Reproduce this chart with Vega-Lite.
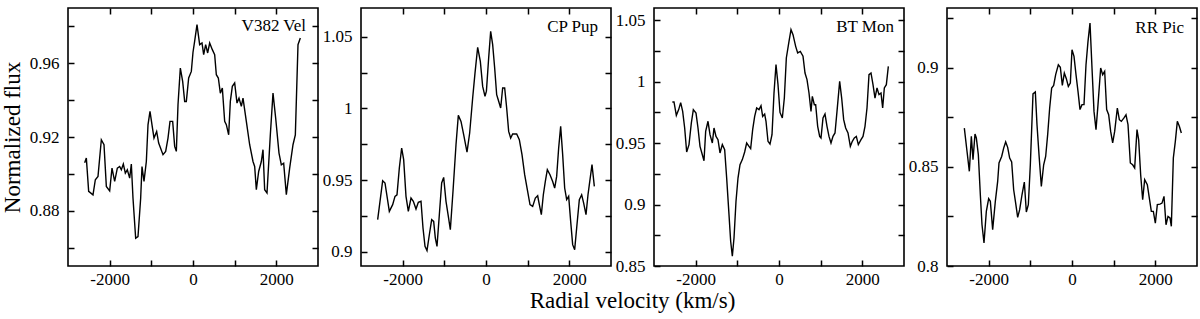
{
  "$schema": "https://vega.github.io/schema/vega-lite/v6.json",
  "background": "white",
  "padding": {"left": 0, "top": 6, "right": 2, "bottom": 3},
  "bounds": "flush",
  "spacing": 43,
  "title": {"text": "Radial velocity (km/s)", "orient": "bottom", "anchor": "middle", "font": "Liberation Serif", "fontSize": 23, "fontWeight": "normal", "color": "black", "offset": 0, "dy": 2, "dx": 33},
  "config": {
    "view": {"stroke": "black", "strokeWidth": 1.6},
    "axis": {"domain": false, "grid": false, "tickColor": "black", "tickWidth": 1.5, "tickSize": -6, "labelFont": "Liberation Serif", "labelFontSize": 17, "labelColor": "black", "titleFont": "Liberation Serif", "titleFontSize": 23, "titleFontWeight": "normal", "titleColor": "black"},
    "axisX": {"labelPadding": 11},
    "axisY": {"labelPadding": 15},
    "title": {"font": "Liberation Serif", "fontWeight": "normal", "color": "black"}
  },
  "data": {"values": [
    {"star":"V382 Vel","velocity":-2600,"flux":0.906},
    {"star":"V382 Vel","velocity":-2560,"flux":0.9086},
    {"star":"V382 Vel","velocity":-2504,"flux":0.8905},
    {"star":"V382 Vel","velocity":-2400,"flux":0.8886},
    {"star":"V382 Vel","velocity":-2344,"flux":0.8968},
    {"star":"V382 Vel","velocity":-2280,"flux":0.8986},
    {"star":"V382 Vel","velocity":-2200,"flux":0.9185},
    {"star":"V382 Vel","velocity":-2136,"flux":0.9158},
    {"star":"V382 Vel","velocity":-2080,"flux":0.8932},
    {"star":"V382 Vel","velocity":-2000,"flux":0.8908},
    {"star":"V382 Vel","velocity":-1944,"flux":0.9031},
    {"star":"V382 Vel","velocity":-1880,"flux":0.8959},
    {"star":"V382 Vel","velocity":-1816,"flux":0.9031},
    {"star":"V382 Vel","velocity":-1760,"flux":0.904},
    {"star":"V382 Vel","velocity":-1720,"flux":0.9022},
    {"star":"V382 Vel","velocity":-1672,"flux":0.9053},
    {"star":"V382 Vel","velocity":-1624,"flux":0.9004},
    {"star":"V382 Vel","velocity":-1576,"flux":0.9022},
    {"star":"V382 Vel","velocity":-1520,"flux":0.8977},
    {"star":"V382 Vel","velocity":-1480,"flux":0.9053},
    {"star":"V382 Vel","velocity":-1440,"flux":0.8868},
    {"star":"V382 Vel","velocity":-1376,"flux":0.8651},
    {"star":"V382 Vel","velocity":-1320,"flux":0.866},
    {"star":"V382 Vel","velocity":-1256,"flux":0.8868},
    {"star":"V382 Vel","velocity":-1224,"flux":0.904},
    {"star":"V382 Vel","velocity":-1176,"flux":0.8959},
    {"star":"V382 Vel","velocity":-1120,"flux":0.9067},
    {"star":"V382 Vel","velocity":-1080,"flux":0.9266},
    {"star":"V382 Vel","velocity":-1032,"flux":0.9339},
    {"star":"V382 Vel","velocity":-984,"flux":0.9266},
    {"star":"V382 Vel","velocity":-936,"flux":0.9194},
    {"star":"V382 Vel","velocity":-872,"flux":0.923},
    {"star":"V382 Vel","velocity":-824,"flux":0.9167},
    {"star":"V382 Vel","velocity":-720,"flux":0.9104},
    {"star":"V382 Vel","velocity":-656,"flux":0.9122},
    {"star":"V382 Vel","velocity":-600,"flux":0.9194},
    {"star":"V382 Vel","velocity":-552,"flux":0.9285},
    {"star":"V382 Vel","velocity":-488,"flux":0.9285},
    {"star":"V382 Vel","velocity":-440,"flux":0.9149},
    {"star":"V382 Vel","velocity":-400,"flux":0.9122},
    {"star":"V382 Vel","velocity":-360,"flux":0.9375},
    {"star":"V382 Vel","velocity":-304,"flux":0.9574},
    {"star":"V382 Vel","velocity":-248,"flux":0.9502},
    {"star":"V382 Vel","velocity":-200,"flux":0.9393},
    {"star":"V382 Vel","velocity":-160,"flux":0.9393},
    {"star":"V382 Vel","velocity":-104,"flux":0.952},
    {"star":"V382 Vel","velocity":-40,"flux":0.9556},
    {"star":"V382 Vel","velocity":0,"flux":0.966},
    {"star":"V382 Vel","velocity":40,"flux":0.972},
    {"star":"V382 Vel","velocity":96,"flux":0.981},
    {"star":"V382 Vel","velocity":160,"flux":0.9701},
    {"star":"V382 Vel","velocity":216,"flux":0.971},
    {"star":"V382 Vel","velocity":256,"flux":0.9647},
    {"star":"V382 Vel","velocity":304,"flux":0.9701},
    {"star":"V382 Vel","velocity":352,"flux":0.9656},
    {"star":"V382 Vel","velocity":400,"flux":0.971},
    {"star":"V382 Vel","velocity":464,"flux":0.9674},
    {"star":"V382 Vel","velocity":520,"flux":0.9647},
    {"star":"V382 Vel","velocity":560,"flux":0.9538},
    {"star":"V382 Vel","velocity":608,"flux":0.952},
    {"star":"V382 Vel","velocity":656,"flux":0.9438},
    {"star":"V382 Vel","velocity":704,"flux":0.9466},
    {"star":"V382 Vel","velocity":760,"flux":0.9285},
    {"star":"V382 Vel","velocity":800,"flux":0.9267},
    {"star":"V382 Vel","velocity":856,"flux":0.9212},
    {"star":"V382 Vel","velocity":896,"flux":0.9393},
    {"star":"V382 Vel","velocity":944,"flux":0.9475},
    {"star":"V382 Vel","velocity":1000,"flux":0.9493},
    {"star":"V382 Vel","velocity":1056,"flux":0.9384},
    {"star":"V382 Vel","velocity":1104,"flux":0.9411},
    {"star":"V382 Vel","velocity":1160,"flux":0.9366},
    {"star":"V382 Vel","velocity":1200,"flux":0.9411},
    {"star":"V382 Vel","velocity":1280,"flux":0.9285},
    {"star":"V382 Vel","velocity":1360,"flux":0.9158},
    {"star":"V382 Vel","velocity":1440,"flux":0.9067},
    {"star":"V382 Vel","velocity":1480,"flux":0.904},
    {"star":"V382 Vel","velocity":1520,"flux":0.8914},
    {"star":"V382 Vel","velocity":1576,"flux":0.9013},
    {"star":"V382 Vel","velocity":1640,"flux":0.9067},
    {"star":"V382 Vel","velocity":1680,"flux":0.9131},
    {"star":"V382 Vel","velocity":1720,"flux":0.8914},
    {"star":"V382 Vel","velocity":1776,"flux":0.8896},
    {"star":"V382 Vel","velocity":1856,"flux":0.9212},
    {"star":"V382 Vel","velocity":1920,"flux":0.9438},
    {"star":"V382 Vel","velocity":1984,"flux":0.9303},
    {"star":"V382 Vel","velocity":2064,"flux":0.9113},
    {"star":"V382 Vel","velocity":2120,"flux":0.9049},
    {"star":"V382 Vel","velocity":2176,"flux":0.9058},
    {"star":"V382 Vel","velocity":2240,"flux":0.8887},
    {"star":"V382 Vel","velocity":2320,"flux":0.9031},
    {"star":"V382 Vel","velocity":2400,"flux":0.9158},
    {"star":"V382 Vel","velocity":2456,"flux":0.9212},
    {"star":"V382 Vel","velocity":2520,"flux":0.9701},
    {"star":"V382 Vel","velocity":2576,"flux":0.9737},

    {"star":"CP Pup","velocity":-2600,"flux":0.9223},
    {"star":"CP Pup","velocity":-2480,"flux":0.9495},
    {"star":"CP Pup","velocity":-2424,"flux":0.9479},
    {"star":"CP Pup","velocity":-2320,"flux":0.9281},
    {"star":"CP Pup","velocity":-2240,"flux":0.9328},
    {"star":"CP Pup","velocity":-2184,"flux":0.9386},
    {"star":"CP Pup","velocity":-2136,"flux":0.9397},
    {"star":"CP Pup","velocity":-2080,"flux":0.9584},
    {"star":"CP Pup","velocity":-2024,"flux":0.9723},
    {"star":"CP Pup","velocity":-1976,"flux":0.9642},
    {"star":"CP Pup","velocity":-1920,"flux":0.9386},
    {"star":"CP Pup","velocity":-1864,"flux":0.9281},
    {"star":"CP Pup","velocity":-1800,"flux":0.9374},
    {"star":"CP Pup","velocity":-1744,"flux":0.9351},
    {"star":"CP Pup","velocity":-1680,"flux":0.9297},
    {"star":"CP Pup","velocity":-1624,"flux":0.9344},
    {"star":"CP Pup","velocity":-1560,"flux":0.9351},
    {"star":"CP Pup","velocity":-1512,"flux":0.9165},
    {"star":"CP Pup","velocity":-1464,"flux":0.9037},
    {"star":"CP Pup","velocity":-1416,"flux":0.9007},
    {"star":"CP Pup","velocity":-1360,"flux":0.9118},
    {"star":"CP Pup","velocity":-1304,"flux":0.9223},
    {"star":"CP Pup","velocity":-1256,"flux":0.9211},
    {"star":"CP Pup","velocity":-1216,"flux":0.9095},
    {"star":"CP Pup","velocity":-1176,"flux":0.9037},
    {"star":"CP Pup","velocity":-1120,"flux":0.9258},
    {"star":"CP Pup","velocity":-1064,"flux":0.9479},
    {"star":"CP Pup","velocity":-1016,"flux":0.9518},
    {"star":"CP Pup","velocity":-960,"flux":0.9351},
    {"star":"CP Pup","velocity":-904,"flux":0.9246},
    {"star":"CP Pup","velocity":-856,"flux":0.9153},
    {"star":"CP Pup","velocity":-792,"flux":0.9421},
    {"star":"CP Pup","velocity":-720,"flux":0.9746},
    {"star":"CP Pup","velocity":-664,"flux":0.9951},
    {"star":"CP Pup","velocity":-600,"flux":0.9909},
    {"star":"CP Pup","velocity":-536,"flux":0.9816},
    {"star":"CP Pup","velocity":-456,"flux":0.9695},
    {"star":"CP Pup","velocity":-392,"flux":0.9828},
    {"star":"CP Pup","velocity":-320,"flux":1.0072},
    {"star":"CP Pup","velocity":-264,"flux":1.0246},
    {"star":"CP Pup","velocity":-200,"flux":1.0426},
    {"star":"CP Pup","velocity":-136,"flux":1.0328},
    {"star":"CP Pup","velocity":-80,"flux":1.0153},
    {"star":"CP Pup","velocity":-24,"flux":1.0084},
    {"star":"CP Pup","velocity":10,"flux":1.012},
    {"star":"CP Pup","velocity":64,"flux":1.0351},
    {"star":"CP Pup","velocity":112,"flux":1.0537},
    {"star":"CP Pup","velocity":160,"flux":1.0444},
    {"star":"CP Pup","velocity":208,"flux":1.0281},
    {"star":"CP Pup","velocity":256,"flux":1.0095},
    {"star":"CP Pup","velocity":304,"flux":1.0049},
    {"star":"CP Pup","velocity":352,"flux":1.0002},
    {"star":"CP Pup","velocity":400,"flux":1.0142},
    {"star":"CP Pup","velocity":448,"flux":1.0142},
    {"star":"CP Pup","velocity":496,"flux":1.0002},
    {"star":"CP Pup","velocity":544,"flux":0.9839},
    {"star":"CP Pup","velocity":592,"flux":0.9793},
    {"star":"CP Pup","velocity":640,"flux":0.9821},
    {"star":"CP Pup","velocity":736,"flux":0.9821},
    {"star":"CP Pup","velocity":800,"flux":0.9781},
    {"star":"CP Pup","velocity":864,"flux":0.9677},
    {"star":"CP Pup","velocity":928,"flux":0.9537},
    {"star":"CP Pup","velocity":992,"flux":0.9432},
    {"star":"CP Pup","velocity":1056,"flux":0.9328},
    {"star":"CP Pup","velocity":1120,"flux":0.9316},
    {"star":"CP Pup","velocity":1184,"flux":0.9374},
    {"star":"CP Pup","velocity":1240,"flux":0.939},
    {"star":"CP Pup","velocity":1280,"flux":0.9328},
    {"star":"CP Pup","velocity":1328,"flux":0.9258},
    {"star":"CP Pup","velocity":1376,"flux":0.9397},
    {"star":"CP Pup","velocity":1424,"flux":0.949},
    {"star":"CP Pup","velocity":1472,"flux":0.9572},
    {"star":"CP Pup","velocity":1536,"flux":0.9537},
    {"star":"CP Pup","velocity":1600,"flux":0.949},
    {"star":"CP Pup","velocity":1648,"flux":0.9444},
    {"star":"CP Pup","velocity":1696,"flux":0.9525},
    {"star":"CP Pup","velocity":1744,"flux":0.9723},
    {"star":"CP Pup","velocity":1792,"flux":0.9874},
    {"star":"CP Pup","velocity":1840,"flux":0.9677},
    {"star":"CP Pup","velocity":1888,"flux":0.9444},
    {"star":"CP Pup","velocity":1936,"flux":0.9363},
    {"star":"CP Pup","velocity":1984,"flux":0.9386},
    {"star":"CP Pup","velocity":2032,"flux":0.9211},
    {"star":"CP Pup","velocity":2080,"flux":0.9049},
    {"star":"CP Pup","velocity":2128,"flux":0.9014},
    {"star":"CP Pup","velocity":2176,"flux":0.9165},
    {"star":"CP Pup","velocity":2240,"flux":0.9363},
    {"star":"CP Pup","velocity":2296,"flux":0.9397},
    {"star":"CP Pup","velocity":2344,"flux":0.9339},
    {"star":"CP Pup","velocity":2400,"flux":0.9258},
    {"star":"CP Pup","velocity":2448,"flux":0.9397},
    {"star":"CP Pup","velocity":2496,"flux":0.9502},
    {"star":"CP Pup","velocity":2544,"flux":0.9607},
    {"star":"CP Pup","velocity":2600,"flux":0.9456},

    {"star":"BT Mon","velocity":-2560,"flux":0.9835},
    {"star":"BT Mon","velocity":-2520,"flux":0.9835},
    {"star":"BT Mon","velocity":-2464,"flux":0.9726},
    {"star":"BT Mon","velocity":-2408,"flux":0.9773},
    {"star":"BT Mon","velocity":-2360,"flux":0.983},
    {"star":"BT Mon","velocity":-2312,"flux":0.9759},
    {"star":"BT Mon","velocity":-2264,"flux":0.9623},
    {"star":"BT Mon","velocity":-2216,"flux":0.9428},
    {"star":"BT Mon","velocity":-2160,"flux":0.9488},
    {"star":"BT Mon","velocity":-2104,"flux":0.9664},
    {"star":"BT Mon","velocity":-2056,"flux":0.9773},
    {"star":"BT Mon","velocity":-1992,"flux":0.9745},
    {"star":"BT Mon","velocity":-1944,"flux":0.9623},
    {"star":"BT Mon","velocity":-1896,"flux":0.9474},
    {"star":"BT Mon","velocity":-1840,"flux":0.9406},
    {"star":"BT Mon","velocity":-1800,"flux":0.9357},
    {"star":"BT Mon","velocity":-1760,"flux":0.9596},
    {"star":"BT Mon","velocity":-1704,"flux":0.9678},
    {"star":"BT Mon","velocity":-1656,"flux":0.9569},
    {"star":"BT Mon","velocity":-1600,"flux":0.9501},
    {"star":"BT Mon","velocity":-1560,"flux":0.9623},
    {"star":"BT Mon","velocity":-1512,"flux":0.9555},
    {"star":"BT Mon","velocity":-1464,"flux":0.9528},
    {"star":"BT Mon","velocity":-1416,"flux":0.942},
    {"star":"BT Mon","velocity":-1360,"flux":0.9488},
    {"star":"BT Mon","velocity":-1304,"flux":0.9447},
    {"star":"BT Mon","velocity":-1256,"flux":0.9216},
    {"star":"BT Mon","velocity":-1200,"flux":0.8918},
    {"star":"BT Mon","velocity":-1160,"flux":0.8701},
    {"star":"BT Mon","velocity":-1120,"flux":0.8579},
    {"star":"BT Mon","velocity":-1080,"flux":0.8728},
    {"star":"BT Mon","velocity":-1032,"flux":0.9027},
    {"star":"BT Mon","velocity":-984,"flux":0.9216},
    {"star":"BT Mon","velocity":-936,"flux":0.9325},
    {"star":"BT Mon","velocity":-880,"flux":0.9366},
    {"star":"BT Mon","velocity":-824,"flux":0.9428},
    {"star":"BT Mon","velocity":-776,"flux":0.9501},
    {"star":"BT Mon","velocity":-720,"flux":0.9474},
    {"star":"BT Mon","velocity":-680,"flux":0.9455},
    {"star":"BT Mon","velocity":-632,"flux":0.961},
    {"star":"BT Mon","velocity":-584,"flux":0.9718},
    {"star":"BT Mon","velocity":-536,"flux":0.9786},
    {"star":"BT Mon","velocity":-480,"flux":0.9773},
    {"star":"BT Mon","velocity":-432,"flux":0.9805},
    {"star":"BT Mon","velocity":-392,"flux":0.9718},
    {"star":"BT Mon","velocity":-344,"flux":0.9737},
    {"star":"BT Mon","velocity":-312,"flux":0.9678},
    {"star":"BT Mon","velocity":-264,"flux":0.9515},
    {"star":"BT Mon","velocity":-216,"flux":0.9493},
    {"star":"BT Mon","velocity":-168,"flux":0.9569},
    {"star":"BT Mon","velocity":-120,"flux":0.9908},
    {"star":"BT Mon","velocity":-72,"flux":1.0139},
    {"star":"BT Mon","velocity":-24,"flux":0.9976},
    {"star":"BT Mon","velocity":24,"flux":0.975},
    {"star":"BT Mon","velocity":80,"flux":0.9705},
    {"star":"BT Mon","velocity":128,"flux":0.9867},
    {"star":"BT Mon","velocity":176,"flux":1.0193},
    {"star":"BT Mon","velocity":240,"flux":1.0329},
    {"star":"BT Mon","velocity":288,"flux":1.0424},
    {"star":"BT Mon","velocity":336,"flux":1.0383},
    {"star":"BT Mon","velocity":400,"flux":1.0288},
    {"star":"BT Mon","velocity":448,"flux":1.0234},
    {"star":"BT Mon","velocity":512,"flux":1.0247},
    {"star":"BT Mon","velocity":576,"flux":1.0207},
    {"star":"BT Mon","velocity":624,"flux":1.0071},
    {"star":"BT Mon","velocity":672,"flux":1.0017},
    {"star":"BT Mon","velocity":720,"flux":0.9908},
    {"star":"BT Mon","velocity":768,"flux":0.9759},
    {"star":"BT Mon","velocity":800,"flux":0.9881},
    {"star":"BT Mon","velocity":848,"flux":0.9813},
    {"star":"BT Mon","velocity":880,"flux":0.9813},
    {"star":"BT Mon","velocity":928,"flux":0.9637},
    {"star":"BT Mon","velocity":976,"flux":0.9555},
    {"star":"BT Mon","velocity":1008,"flux":0.9542},
    {"star":"BT Mon","velocity":1056,"flux":0.9705},
    {"star":"BT Mon","velocity":1104,"flux":0.9737},
    {"star":"BT Mon","velocity":1152,"flux":0.9637},
    {"star":"BT Mon","velocity":1200,"flux":0.9555},
    {"star":"BT Mon","velocity":1248,"flux":0.9501},
    {"star":"BT Mon","velocity":1296,"flux":0.9555},
    {"star":"BT Mon","velocity":1344,"flux":0.9583},
    {"star":"BT Mon","velocity":1392,"flux":0.9759},
    {"star":"BT Mon","velocity":1456,"flux":1.0003},
    {"star":"BT Mon","velocity":1504,"flux":0.9867},
    {"star":"BT Mon","velocity":1552,"flux":0.9691},
    {"star":"BT Mon","velocity":1600,"flux":0.9623},
    {"star":"BT Mon","velocity":1656,"flux":0.9583},
    {"star":"BT Mon","velocity":1712,"flux":0.9474},
    {"star":"BT Mon","velocity":1760,"flux":0.9515},
    {"star":"BT Mon","velocity":1808,"flux":0.9542},
    {"star":"BT Mon","velocity":1856,"flux":0.9555},
    {"star":"BT Mon","velocity":1904,"flux":0.9488},
    {"star":"BT Mon","velocity":1968,"flux":0.9528},
    {"star":"BT Mon","velocity":2016,"flux":0.9555},
    {"star":"BT Mon","velocity":2064,"flux":0.9637},
    {"star":"BT Mon","velocity":2112,"flux":0.9786},
    {"star":"BT Mon","velocity":2160,"flux":1.0057},
    {"star":"BT Mon","velocity":2208,"flux":1.0071},
    {"star":"BT Mon","velocity":2256,"flux":0.9976},
    {"star":"BT Mon","velocity":2304,"flux":0.9867},
    {"star":"BT Mon","velocity":2352,"flux":0.9949},
    {"star":"BT Mon","velocity":2400,"flux":0.9895},
    {"star":"BT Mon","velocity":2448,"flux":0.9908},
    {"star":"BT Mon","velocity":2488,"flux":0.9786},
    {"star":"BT Mon","velocity":2528,"flux":0.9949},
    {"star":"BT Mon","velocity":2576,"flux":0.9976},
    {"star":"BT Mon","velocity":2624,"flux":1.0125},

    {"star":"RR Pic","velocity":-2584,"flux":0.8695},
    {"star":"RR Pic","velocity":-2520,"flux":0.8578},
    {"star":"RR Pic","velocity":-2464,"flux":0.8477},
    {"star":"RR Pic","velocity":-2416,"flux":0.8653},
    {"star":"RR Pic","velocity":-2376,"flux":0.8536},
    {"star":"RR Pic","velocity":-2328,"flux":0.8665},
    {"star":"RR Pic","velocity":-2296,"flux":0.8645},
    {"star":"RR Pic","velocity":-2248,"flux":0.8561},
    {"star":"RR Pic","velocity":-2200,"flux":0.8359},
    {"star":"RR Pic","velocity":-2160,"flux":0.8208},
    {"star":"RR Pic","velocity":-2112,"flux":0.8116},
    {"star":"RR Pic","velocity":-2056,"flux":0.8275},
    {"star":"RR Pic","velocity":-2000,"flux":0.8339},
    {"star":"RR Pic","velocity":-1960,"flux":0.8326},
    {"star":"RR Pic","velocity":-1904,"flux":0.8183},
    {"star":"RR Pic","velocity":-1840,"flux":0.8326},
    {"star":"RR Pic","velocity":-1784,"flux":0.8426},
    {"star":"RR Pic","velocity":-1752,"flux":0.8519},
    {"star":"RR Pic","velocity":-1688,"flux":0.8552},
    {"star":"RR Pic","velocity":-1640,"flux":0.8594},
    {"star":"RR Pic","velocity":-1592,"flux":0.8625},
    {"star":"RR Pic","velocity":-1544,"flux":0.8598},
    {"star":"RR Pic","velocity":-1496,"flux":0.8544},
    {"star":"RR Pic","velocity":-1448,"flux":0.8524},
    {"star":"RR Pic","velocity":-1400,"flux":0.8384},
    {"star":"RR Pic","velocity":-1352,"flux":0.8317},
    {"star":"RR Pic","velocity":-1304,"flux":0.8245},
    {"star":"RR Pic","velocity":-1256,"flux":0.8284},
    {"star":"RR Pic","velocity":-1200,"flux":0.8359},
    {"star":"RR Pic","velocity":-1144,"flux":0.8423},
    {"star":"RR Pic","velocity":-1096,"flux":0.8272},
    {"star":"RR Pic","velocity":-1048,"flux":0.8309},
    {"star":"RR Pic","velocity":-1000,"flux":0.851},
    {"star":"RR Pic","velocity":-936,"flux":0.8867},
    {"star":"RR Pic","velocity":-880,"flux":0.8877},
    {"star":"RR Pic","velocity":-840,"flux":0.8712},
    {"star":"RR Pic","velocity":-792,"flux":0.8561},
    {"star":"RR Pic","velocity":-736,"flux":0.8401},
    {"star":"RR Pic","velocity":-680,"flux":0.851},
    {"star":"RR Pic","velocity":-632,"flux":0.8552},
    {"star":"RR Pic","velocity":-584,"flux":0.8662},
    {"star":"RR Pic","velocity":-536,"flux":0.8796},
    {"star":"RR Pic","velocity":-488,"flux":0.8897},
    {"star":"RR Pic","velocity":-440,"flux":0.891},
    {"star":"RR Pic","velocity":-392,"flux":0.8964},
    {"star":"RR Pic","velocity":-328,"flux":0.9014},
    {"star":"RR Pic","velocity":-280,"flux":0.9001},
    {"star":"RR Pic","velocity":-232,"flux":0.891},
    {"star":"RR Pic","velocity":-184,"flux":0.8972},
    {"star":"RR Pic","velocity":-136,"flux":0.8944},
    {"star":"RR Pic","velocity":-88,"flux":0.8905},
    {"star":"RR Pic","velocity":-40,"flux":0.8922},
    {"star":"RR Pic","velocity":0,"flux":0.909},
    {"star":"RR Pic","velocity":48,"flux":0.9056},
    {"star":"RR Pic","velocity":96,"flux":0.8964},
    {"star":"RR Pic","velocity":144,"flux":0.888},
    {"star":"RR Pic","velocity":192,"flux":0.8788},
    {"star":"RR Pic","velocity":240,"flux":0.8813},
    {"star":"RR Pic","velocity":288,"flux":0.8813},
    {"star":"RR Pic","velocity":336,"flux":0.9014},
    {"star":"RR Pic","velocity":384,"flux":0.9132},
    {"star":"RR Pic","velocity":432,"flux":0.9224},
    {"star":"RR Pic","velocity":480,"flux":0.8998},
    {"star":"RR Pic","velocity":528,"flux":0.8779},
    {"star":"RR Pic","velocity":576,"flux":0.8687},
    {"star":"RR Pic","velocity":624,"flux":0.8813},
    {"star":"RR Pic","velocity":688,"flux":0.8998},
    {"star":"RR Pic","velocity":736,"flux":0.8964},
    {"star":"RR Pic","velocity":784,"flux":0.8981},
    {"star":"RR Pic","velocity":832,"flux":0.8788},
    {"star":"RR Pic","velocity":880,"flux":0.8762},
    {"star":"RR Pic","velocity":928,"flux":0.8678},
    {"star":"RR Pic","velocity":976,"flux":0.862},
    {"star":"RR Pic","velocity":1024,"flux":0.8678},
    {"star":"RR Pic","velocity":1088,"flux":0.8796},
    {"star":"RR Pic","velocity":1136,"flux":0.8737},
    {"star":"RR Pic","velocity":1184,"flux":0.8729},
    {"star":"RR Pic","velocity":1248,"flux":0.8746},
    {"star":"RR Pic","velocity":1296,"flux":0.8762},
    {"star":"RR Pic","velocity":1344,"flux":0.8712},
    {"star":"RR Pic","velocity":1400,"flux":0.8519},
    {"star":"RR Pic","velocity":1456,"flux":0.851},
    {"star":"RR Pic","velocity":1504,"flux":0.8494},
    {"star":"RR Pic","velocity":1560,"flux":0.8687},
    {"star":"RR Pic","velocity":1600,"flux":0.8636},
    {"star":"RR Pic","velocity":1648,"flux":0.846},
    {"star":"RR Pic","velocity":1696,"flux":0.8334},
    {"star":"RR Pic","velocity":1744,"flux":0.8435},
    {"star":"RR Pic","velocity":1808,"flux":0.841},
    {"star":"RR Pic","velocity":1856,"flux":0.8342},
    {"star":"RR Pic","velocity":1904,"flux":0.8275},
    {"star":"RR Pic","velocity":1952,"flux":0.8275},
    {"star":"RR Pic","velocity":2000,"flux":0.8216},
    {"star":"RR Pic","velocity":2048,"flux":0.8309},
    {"star":"RR Pic","velocity":2112,"flux":0.8312},
    {"star":"RR Pic","velocity":2160,"flux":0.8317},
    {"star":"RR Pic","velocity":2208,"flux":0.8351},
    {"star":"RR Pic","velocity":2256,"flux":0.8208},
    {"star":"RR Pic","velocity":2304,"flux":0.825},
    {"star":"RR Pic","velocity":2352,"flux":0.8242},
    {"star":"RR Pic","velocity":2384,"flux":0.82},
    {"star":"RR Pic","velocity":2432,"flux":0.8544},
    {"star":"RR Pic","velocity":2480,"flux":0.8628},
    {"star":"RR Pic","velocity":2528,"flux":0.8729},
    {"star":"RR Pic","velocity":2576,"flux":0.8704},
    {"star":"RR Pic","velocity":2624,"flux":0.867}
  ]},
  "hconcat": [
    {
      "width": 250, "height": 258,
      "title": {"text": "V382 Vel", "anchor": "end", "frame": "group", "orient": "top", "offset": 0, "dy": 41, "dx": -12, "baseline": "alphabetic", "fontSize": 17},
      "transform": [{"filter": "datum.star === 'V382 Vel'"}],
      "layer": [
        {"mark": {"type": "line", "color": "black", "strokeWidth": 1.4},
         "encoding": {
           "x": {"field": "velocity", "type": "quantitative", "scale": {"domain": [-3000, 3000], "nice": false}, "axis": {"orient": "bottom", "values": [-2000, -1000, 0, 1000, 2000], "labelExpr": "datum.value % 2000 === 0 ? '' + datum.value : ''", "title": null}},
           "y": {"field": "flux", "type": "quantitative", "scale": {"domain": [0.85, 0.99], "nice": false, "zero": false}, "axis": {"orient": "left", "values": [0.86, 0.88, 0.9, 0.92, 0.94, 0.96, 0.98], "labelExpr": "round(datum.value * 100) % 4 === 0 ? format(datum.value, '.2f') : ''", "title": "Normalized flux", "titlePadding": 5}}}},
        {"mark": {"type": "line", "opacity": 0},
         "encoding": {
           "x": {"field": "velocity", "type": "quantitative", "axis": {"orient": "top", "values": [-2000, -1000, 0, 1000, 2000], "labels": false, "title": null}},
           "y": {"field": "flux", "type": "quantitative", "axis": {"orient": "right", "values": [0.86, 0.88, 0.9, 0.92, 0.94, 0.96, 0.98], "labels": false, "title": null}}}}
      ],
      "resolve": {"axis": {"x": "independent", "y": "independent"}}
    },
    {
      "width": 250, "height": 258,
      "title": {"text": "CP Pup", "anchor": "end", "frame": "group", "orient": "top", "offset": 0, "dy": 42, "dx": -13, "baseline": "alphabetic", "fontSize": 17},
      "transform": [{"filter": "datum.star === 'CP Pup'"}],
      "layer": [
        {"mark": {"type": "line", "color": "black", "strokeWidth": 1.4},
         "encoding": {
           "x": {"field": "velocity", "type": "quantitative", "scale": {"domain": [-3000, 3000], "nice": false}, "axis": {"orient": "bottom", "values": [-2000, -1000, 0, 1000, 2000], "labelExpr": "datum.value % 2000 === 0 ? '' + datum.value : ''", "title": null}},
           "y": {"field": "flux", "type": "quantitative", "scale": {"domain": [0.89, 1.07], "nice": false, "zero": false}, "axis": {"orient": "left", "values": [0.9, 0.925, 0.95, 0.975, 1, 1.025, 1.05], "labelExpr": "round(datum.value * 1000) % 50 === 0 ? format(datum.value, '~g') : ''", "title": null}}}},
        {"mark": {"type": "line", "opacity": 0},
         "encoding": {
           "x": {"field": "velocity", "type": "quantitative", "axis": {"orient": "top", "values": [-2000, -1000, 0, 1000, 2000], "labels": false, "title": null}},
           "y": {"field": "flux", "type": "quantitative", "axis": {"orient": "right", "values": [0.9, 0.925, 0.95, 0.975, 1, 1.025, 1.05], "labels": false, "title": null}}}}
      ],
      "resolve": {"axis": {"x": "independent", "y": "independent"}}
    },
    {
      "width": 250, "height": 258,
      "title": {"text": "BT Mon", "anchor": "end", "frame": "group", "orient": "top", "offset": 0, "dy": 42, "dx": -10, "baseline": "alphabetic", "fontSize": 17},
      "transform": [{"filter": "datum.star === 'BT Mon'"}],
      "layer": [
        {"mark": {"type": "line", "color": "black", "strokeWidth": 1.4},
         "encoding": {
           "x": {"field": "velocity", "type": "quantitative", "scale": {"domain": [-3000, 3000], "nice": false}, "axis": {"orient": "bottom", "values": [-2000, -1000, 0, 1000, 2000], "labelExpr": "datum.value % 2000 === 0 ? '' + datum.value : ''", "title": null}},
           "y": {"field": "flux", "type": "quantitative", "scale": {"domain": [0.85, 1.06], "nice": false, "zero": false}, "axis": {"orient": "left", "values": [0.85, 0.875, 0.9, 0.925, 0.95, 0.975, 1, 1.025, 1.05], "labelExpr": "round(datum.value * 1000) % 50 === 0 ? format(datum.value, '~g') : ''", "title": null}}}},
        {"mark": {"type": "line", "opacity": 0},
         "encoding": {
           "x": {"field": "velocity", "type": "quantitative", "axis": {"orient": "top", "values": [-2000, -1000, 0, 1000, 2000], "labels": false, "title": null}},
           "y": {"field": "flux", "type": "quantitative", "axis": {"orient": "right", "values": [0.875, 0.9, 0.925, 0.95, 0.975, 1, 1.025, 1.05], "labels": false, "title": null}}}}
      ],
      "resolve": {"axis": {"x": "independent", "y": "independent"}}
    },
    {
      "width": 250, "height": 258,
      "title": {"text": "RR Pic", "anchor": "end", "frame": "group", "orient": "top", "offset": 0, "dy": 43, "dx": -13, "baseline": "alphabetic", "fontSize": 17},
      "transform": [{"filter": "datum.star === 'RR Pic'"}],
      "layer": [
        {"mark": {"type": "line", "color": "black", "strokeWidth": 1.4},
         "encoding": {
           "x": {"field": "velocity", "type": "quantitative", "scale": {"domain": [-3000, 3000], "nice": false}, "axis": {"orient": "bottom", "values": [-2000, -1000, 0, 1000, 2000], "labelExpr": "datum.value % 2000 === 0 ? '' + datum.value : ''", "title": null}},
           "y": {"field": "flux", "type": "quantitative", "scale": {"domain": [0.8, 0.93], "nice": false, "zero": false}, "axis": {"orient": "left", "values": [0.8, 0.825, 0.85, 0.875, 0.9, 0.925], "labelExpr": "round(datum.value * 1000) % 50 === 0 ? format(datum.value, '~g') : ''", "title": null}}}},
        {"mark": {"type": "line", "opacity": 0},
         "encoding": {
           "x": {"field": "velocity", "type": "quantitative", "axis": {"orient": "top", "values": [-2000, -1000, 0, 1000, 2000], "labels": false, "title": null}},
           "y": {"field": "flux", "type": "quantitative", "axis": {"orient": "right", "values": [0.825, 0.85, 0.875, 0.9, 0.925], "labels": false, "title": null}}}}
      ],
      "resolve": {"axis": {"x": "independent", "y": "independent"}}
    }
  ]
}
